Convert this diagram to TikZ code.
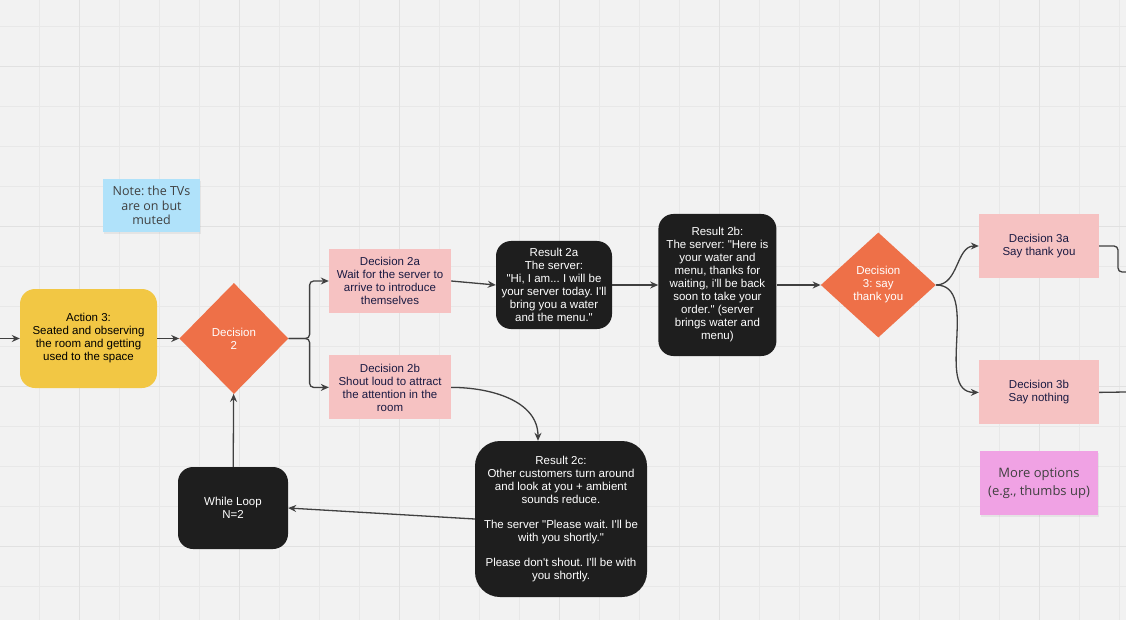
\documentclass[tikz,border=0pt]{standalone}
\usepackage{fontspec}
\setmainfont{Liberation Sans}[Ligatures=TeXOff]
\newfontfamily\notefont{Open Sans}
\usepackage{tikz}
\usetikzlibrary{arrows.meta,positioning,shapes.geometric,calc,shadows}
\usepackage{xcolor}
\definecolor{bggray}{RGB}{242,242,242}
\definecolor{gridminor}{RGB}{232,232,232}
\definecolor{gridmajor}{RGB}{225,225,225}
\definecolor{actyellow}{RGB}{242,199,68}
\definecolor{decorange}{RGB}{238,112,72}
\definecolor{optpink}{RGB}{246,194,194}
\definecolor{resblack}{RGB}{30,30,30}
\definecolor{noteblue}{RGB}{176,226,250}
\definecolor{notemagenta}{RGB}{240,162,228}
\definecolor{inknavy}{RGB}{26,26,66}
\definecolor{linkgray}{RGB}{64,64,64}
\frenchspacing

\begin{document}
\begin{tikzpicture}[x=1pt, y=-1pt,
  every node/.style={font=\fontsize{11.5}{13}\selectfont, align=center, inner sep=2pt},
  action/.style={rounded corners=15pt, fill=actyellow, text=black, minimum width=137pt, minimum height=99pt},
  decision/.style={diamond, fill=decorange, text=white, inner sep=0pt},
  option/.style={fill=optpink, text=inknavy, minimum width=122pt, minimum height=64pt},
  result/.style={rounded corners=15pt, fill=resblack, text=white},
  sticky/.style={font=\notefont\fontsize{12.5}{14.5}\selectfont, text=black!75, drop shadow={opacity=0.12, shadow xshift=1pt, shadow yshift=-2pt}},
  wire/.style={draw=linkgray, line width=1.3pt},
  flow/.style={wire, -{Stealth[length=8pt, width=7pt]}}]
  \useasboundingbox (0,0) rectangle (1126,620);
  % board grid
  \fill[bggray] (0,0) rectangle (1126,620);
  \foreach \gx in {39.3,79.3,...,1126} \draw[gridminor, line width=1pt] (\gx,0) -- (\gx,620);
  \foreach \gy in {26.7,66.7,...,620} \draw[gridminor, line width=1pt] (0,\gy) -- (1126,\gy);
  \foreach \gx in {79.3,239.3,...,1126} \draw[gridmajor, line width=1pt] (\gx,0) -- (\gx,620);
  \foreach \gy in {66.7,226.7,...,620} \draw[gridmajor, line width=1pt] (0,\gy) -- (1126,\gy);

  \node[sticky, fill=noteblue, minimum width=97pt, minimum height=53pt] (tvnote) at (151.5,205.5)
    {Note: the TVs\\ are on but\\ muted};
  \node[action] (act3) at (88.5,338.5)
    {Action 3:\\ Seated and observing\\ the room and getting\\ used to the space};
  \node[decision, minimum width=109pt, minimum height=111pt, right=22pt of act3] (dec2) {Decision\\ 2};
  \node[option] (dec2a) at (390,281)
    {Decision 2a\\ Wait for the server to\\ arrive to introduce\\ themselves};
  \node[option, below=42pt of dec2a] (dec2b)
    {Decision 2b\\ Shout loud to attract\\ the attention in the\\ room};
  \node[result, minimum width=116pt, minimum height=88pt] (res2a) at (554,285)
    {Result 2a\\ The server:\\ "Hi, I am... I will be\\ your server today. I'll\\ bring you a water\\ and the menu."};
  \node[result, minimum width=118pt, minimum height=142pt, right=46pt of res2a] (res2b)
    {Result 2b:\\ The server: "Here is\\ your water and\\ menu, thanks for\\ waiting, i'll be back\\ soon to take your\\ order." (server\\ brings water and\\ menu)};
  \node[decision, minimum width=115pt, minimum height=105pt, right=44pt of res2b] (dec3)
    {Decision\\ 3: say\\ thank you};
  \node[option, minimum width=120pt] (dec3a) at (1039,246) {Decision 3a\\ Say thank you};
  \node[option, minimum width=120pt, below=82pt of dec3a] (dec3b) {Decision 3b\\ Say nothing};
  \node[sticky, fill=notemagenta, minimum width=118pt, minimum height=64pt,
    font=\notefont\fontsize{13}{18}\selectfont] (moreopt) at (1039,483)
    {More options\\ (e.g., thumbs up)};
  \node[result, rounded corners=25pt, minimum width=172pt, minimum height=156pt] (res2c) at (561,519)
    {Result 2c:\\ Other customers turn around\\ and look at you + ambient\\ sounds reduce.\\[12pt]
     The server "Please wait. I'll be\\ with you shortly."\\[12pt]
     Please don't shout. I'll be with\\ you shortly.};
  \node[result, minimum width=110pt, minimum height=82pt] (loop) at (233,508) {While Loop\\ N=2};

  % connectors
  \coordinate (entry) at (0,338.5);
  \coordinate (exit3a) at (1126,272);
  \coordinate (exit3b) at (1126,392);
  \draw[flow] (entry) -- (act3);
  \draw[flow] (act3) -- (dec2);
  \draw[flow, rounded corners=4pt] (dec2.east) -- ++(21,0) |- (dec2a.west);
  \draw[flow, rounded corners=4pt] (dec2.east) -- ++(21,0) |- (dec2b.west);
  \draw[flow] (dec2a.east) -- (res2a.west);
  \draw[flow] (res2a) -- (res2b);
  \draw[flow] (res2b) -- (dec3);
  \draw[flow] (dec3.east) to[out=0, in=180] (dec3a.west);
  \draw[flow] (dec3.east) to[out=0, in=180] (dec3b.west);
  \draw[wire, rounded corners=4pt] (dec3a.east) -| ([xshift=-8pt]exit3a) -- (exit3a);
  \draw[wire] (dec3b.east) -- (exit3b);
  \draw[flow] (dec2b.east) to[out=0, in=90] ([xshift=-23pt]res2c.north);
  \draw[flow] (res2c.west) -- (loop.east);
  \draw[flow] (loop) -- (dec2);
\end{tikzpicture}
\end{document}
